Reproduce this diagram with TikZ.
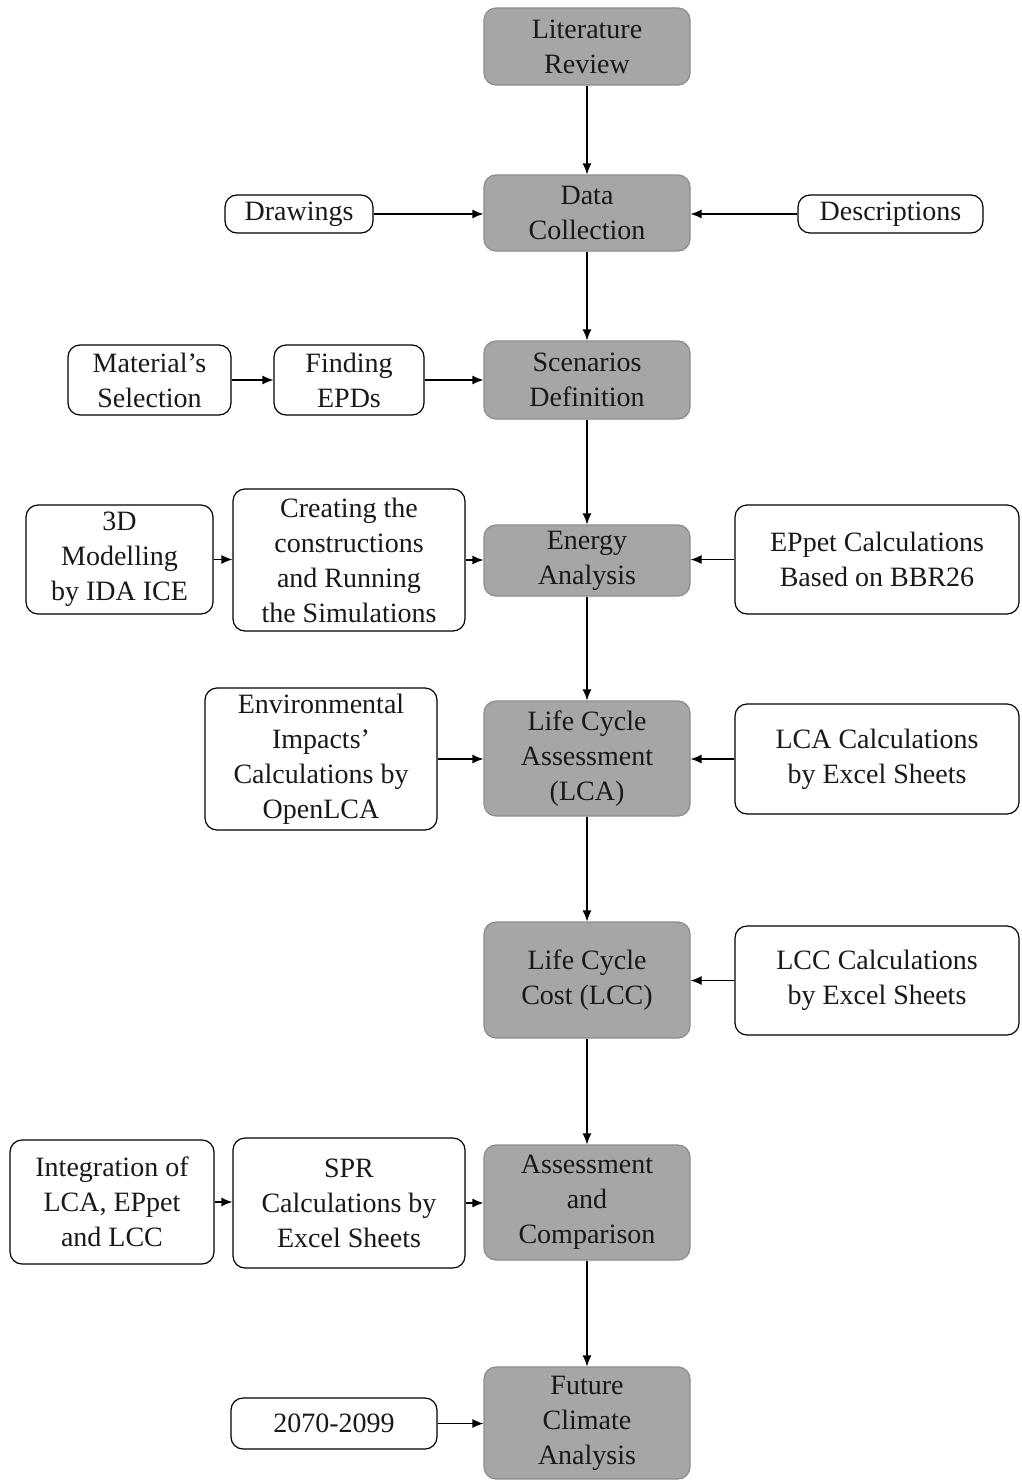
\documentclass[tikz,border=0pt]{standalone}
\usepackage{fontspec}
\setmainfont{Liberation Serif}
\usetikzlibrary{arrows.meta}
\begin{document}
\begin{tikzpicture}[x=1pt,y=-1pt,
  base/.style={rounded corners=12pt, align=center, inner sep=0pt,
    font=\fontsize{28}{35}\selectfont, text=black!90},
  grey/.style={base, fill=black!35, draw=black!45, line width=1.2pt,
    minimum width=206pt},
  white/.style={base, fill=white, draw=black, line width=1.2pt},
  arr/.style={-{Latex[length=11pt,width=9pt]}, line width=1.2pt, draw=black}]
\useasboundingbox (0,0) rectangle (1021,1480);
% main column
\node[grey, minimum height=77pt] (lit) at (587,46.5) {Literature\\Review};
\node[grey, minimum height=76pt] (data) at (587,213) {Data\\Collection};
\node[grey, minimum height=78pt] (scen) at (587,380) {Scenarios\\Definition};
\node[grey, minimum height=71pt] (energy) at (587,560.5) {Energy\\Analysis};
\node[grey, minimum height=115pt] (lca) at (587,758.5) {Life Cycle\\Assessment\\(LCA)};
\node[grey, minimum height=116pt] (lcc) at (587,980) {Life Cycle\\Cost (LCC)};
\node[grey, minimum height=115pt] (assess) at (587,1202.5) {Assessment\\and\\Comparison};
\node[grey, minimum height=112pt] (future) at (587,1423) {Future\\Climate\\Analysis};
% side boxes
\node[white, minimum width=148pt, minimum height=38pt] (drawings) at (299,214) {Drawings};
\node[white, minimum width=185pt, minimum height=38pt] (descr) at (890.5,214) {Descriptions};
\node[white, minimum width=163pt, minimum height=70pt] (mat) at (149.5,380) {Material’s\\Selection};
\node[white, minimum width=150pt, minimum height=70pt] (epd) at (349,380) {Finding\\EPDs};
\node[white, minimum width=187pt, minimum height=109pt] (model) at (119.5,559.5) {3D\\Modelling\\by IDA ICE};
\node[white, minimum width=232pt, minimum height=142pt] (create) at (349,560) {Creating the\\constructions\\and Running\\the Simulations};
\node[white, minimum width=284pt, minimum height=109pt] (eppet) at (877,559.5) {EPpet Calculations\\Based on BBR26};
\node[white, minimum width=232pt, minimum height=142pt] (env) at (321,759) {Environmental\\Impacts’\\Calculations by\\OpenLCA};
\node[white, minimum width=284pt, minimum height=110pt] (lcacalc) at (877,759) {LCA Calculations\\by Excel Sheets};
\node[white, minimum width=284pt, minimum height=109pt] (lcccalc) at (877,980.5) {LCC Calculations\\by Excel Sheets};
\node[white, minimum width=204pt, minimum height=124pt] (integ) at (112,1202) {Integration of\\LCA, EPpet\\and LCC};
\node[white, minimum width=232pt, minimum height=130pt] (spr) at (349,1203) {SPR\\Calculations by\\Excel Sheets};
\node[white, minimum width=206pt, minimum height=51pt] (year) at (334,1423.5) {2070-2099};
% vertical arrows
\draw[arr] (lit) -- (data);
\draw[arr] (data) -- (scen);
\draw[arr] (scen) -- (energy);
\draw[arr] (energy) -- (lca);
\draw[arr] (lca) -- (lcc);
\draw[arr] (lcc) -- (assess);
\draw[arr] (assess) -- (future);
% horizontal arrows
\draw[arr] (drawings.east) -- (drawings.east -| data.west);
\draw[arr] (descr.west) -- (descr.west -| data.east);
\draw[arr] (mat.east) -- (mat.east -| epd.west);
\draw[arr] (epd.east) -- (epd.east -| scen.west);
\draw[arr] (model.east) -- (model.east -| create.west);
\draw[arr] (create.east) -- (create.east -| energy.west);
\draw[arr] (eppet.west) -- (eppet.west -| energy.east);
\draw[arr] (env.east) -- (env.east -| lca.west);
\draw[arr] (lcacalc.west) -- (lcacalc.west -| lca.east);
\draw[arr] (lcccalc.west) -- (lcccalc.west -| lcc.east);
\draw[arr] (integ.east) -- (integ.east -| spr.west);
\draw[arr] (spr.east) -- (spr.east -| assess.west);
\draw[arr] (year.east) -- (year.east -| future.west);
\end{tikzpicture}
\end{document}
